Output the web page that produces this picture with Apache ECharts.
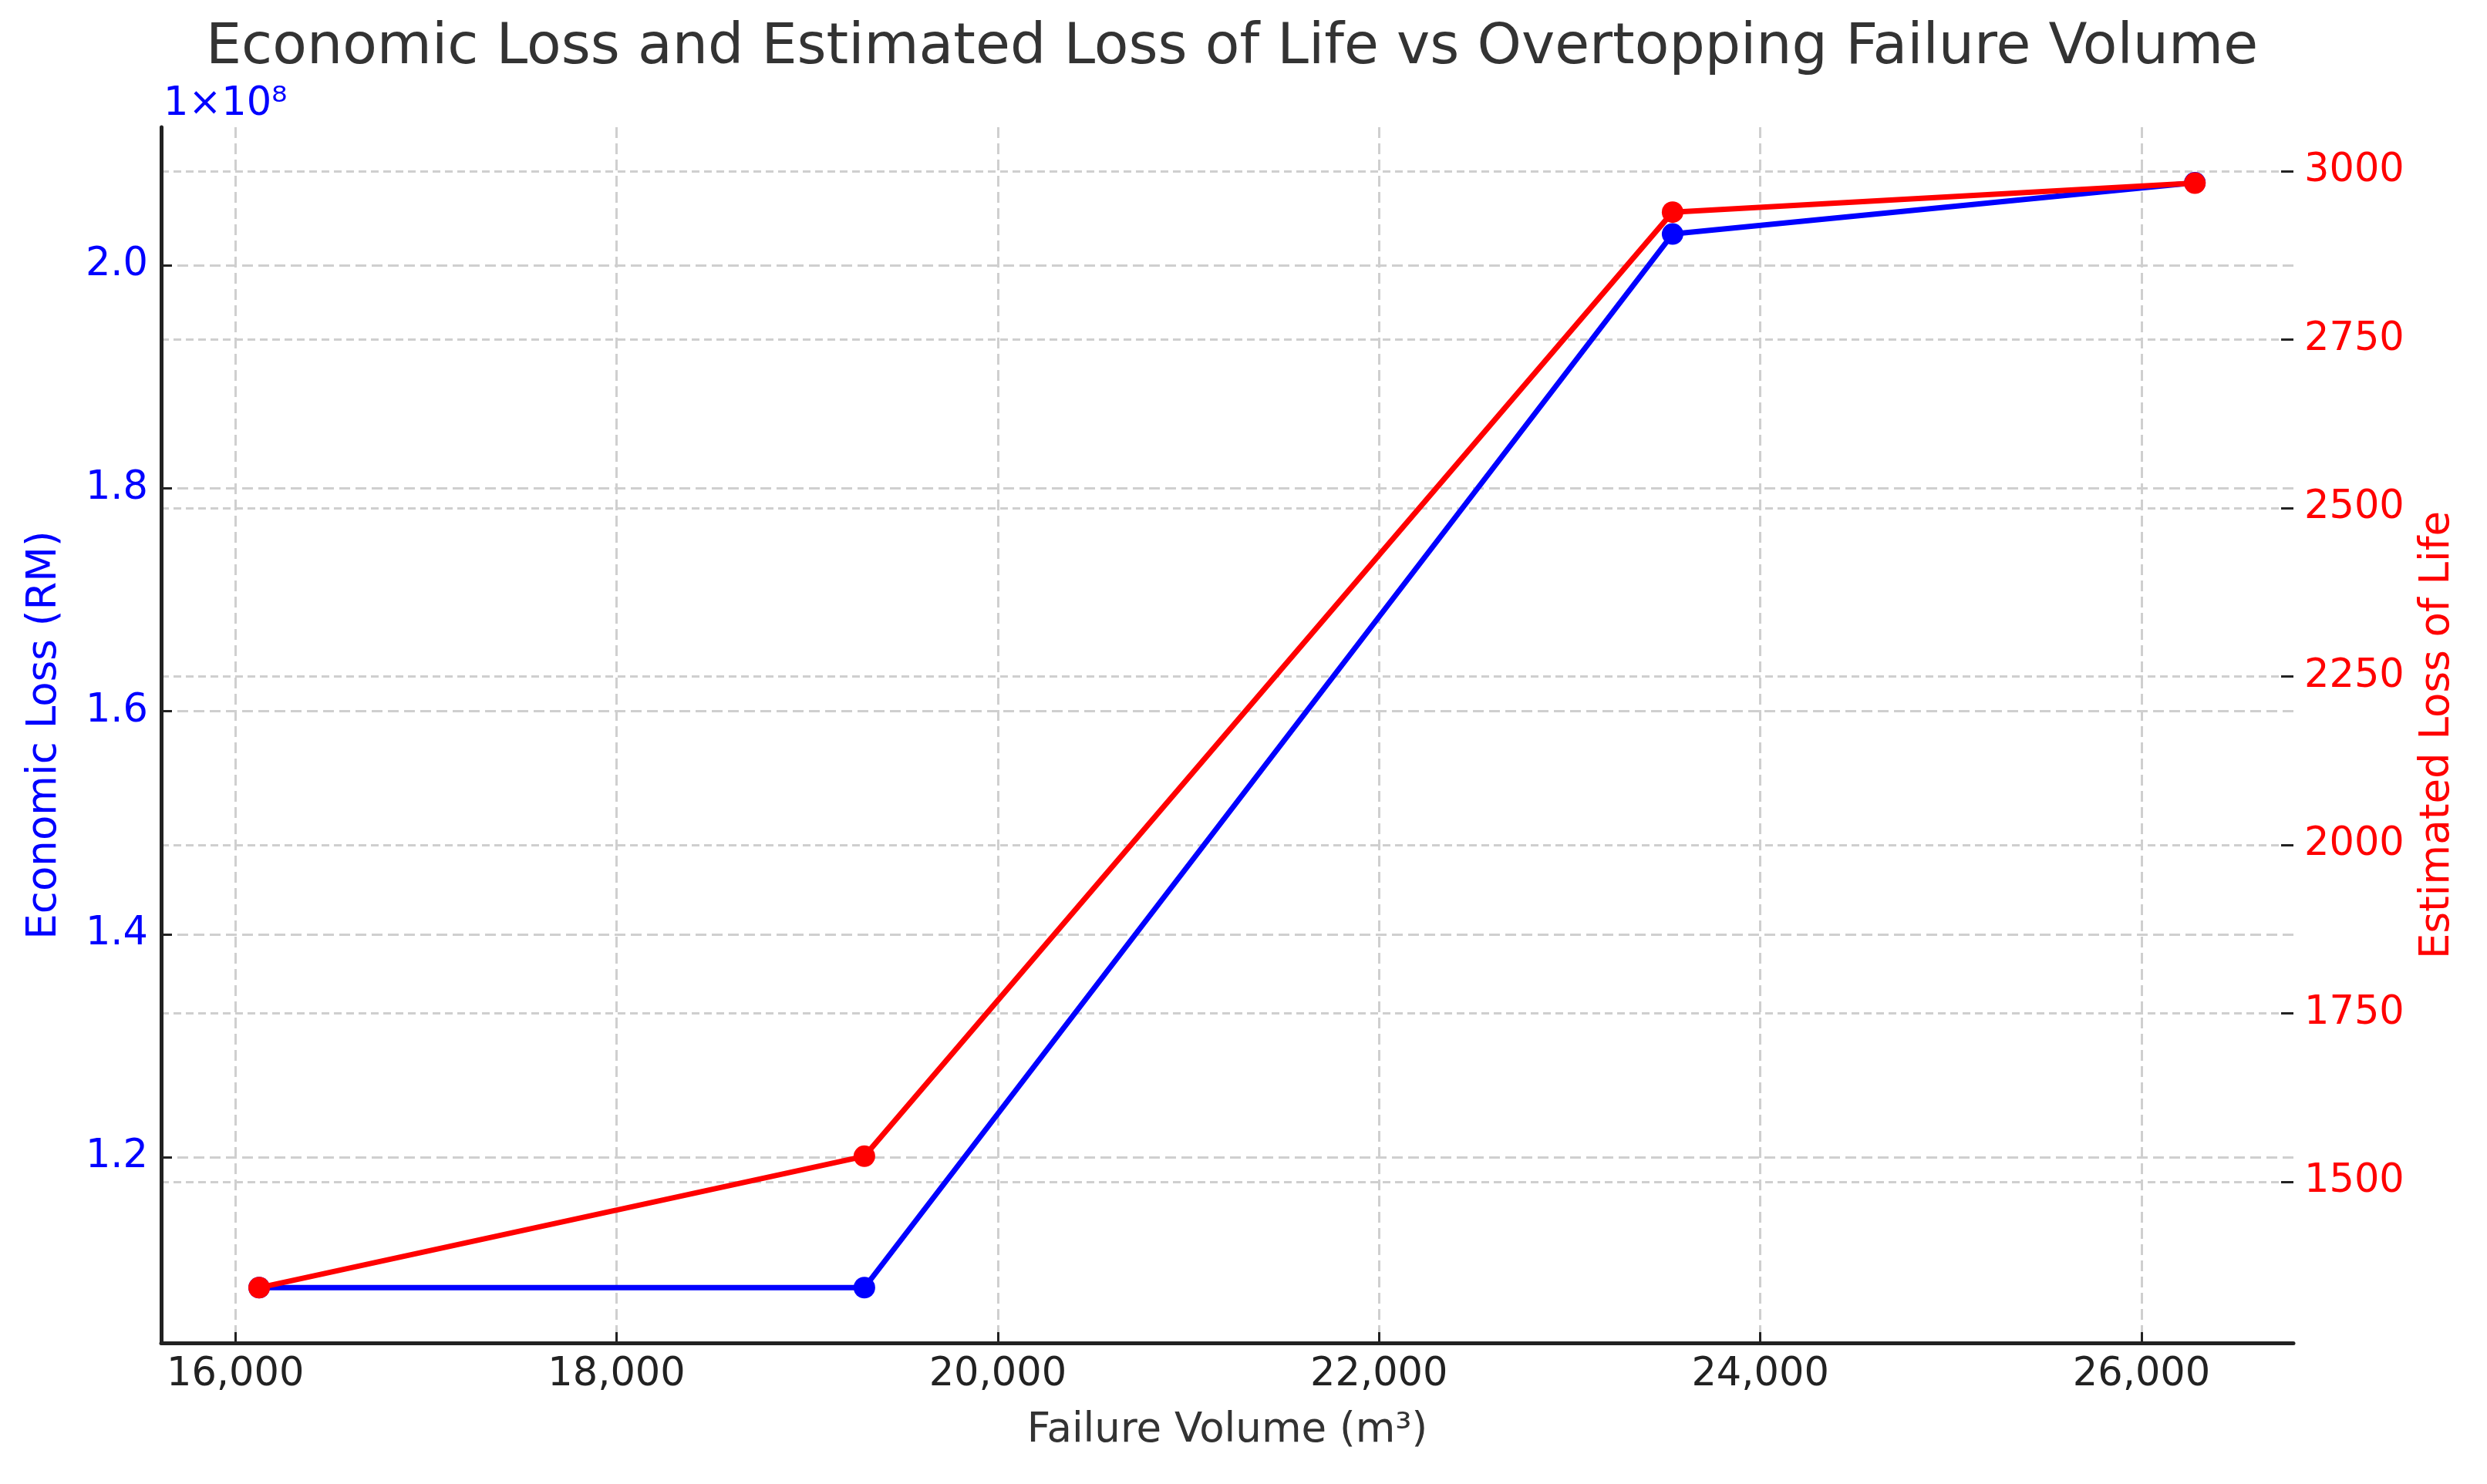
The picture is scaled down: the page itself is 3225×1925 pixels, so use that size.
<!DOCTYPE html>
<html>
<head>
<meta charset="utf-8">
<script src="https://cdn.jsdelivr.net/npm/echarts@6/dist/echarts.min.js"></script>
<style>
html,body{margin:0;padding:0;background:#fff;}
#chart{width:3225px;height:1925px;}
</style>
</head>
<body>
<div id="chart"></div>
<script>
// ---- data ----
const failureVolume = [16125, 19300, 23540, 26280];          // m³
const economicLoss = [1.083e8, 1.083e8, 2.028e8, 2.074e8];   // RM
const lossOfLife = [1343, 1538, 2939, 2982];

const xTicks = [16000, 18000, 20000, 22000, 24000, 26000];
const leftTicks = [1.2e8, 1.4e8, 1.6e8, 1.8e8, 2.0e8];
const rightTicks = [1500, 1750, 2000, 2250, 2500, 2750, 3000];

const titleText = 'Economic Loss and Estimated Loss of Life vs Overtopping Failure Volume';
const xName = 'Failure Volume (m³)';
const leftName = 'Economic Loss (RM)';
const rightName = 'Estimated Loss of Life';
const offsetText = '1×10⁸';

const FONT = 'DejaVu Sans';
const gridLine = (dash) => ({show: true, lineStyle: {color: '#cfcfcf', width: 3, type: dash}});

const chart = echarts.init(document.getElementById('chart'), null, {renderer: 'canvas'});
chart.setOption({
  backgroundColor: '#ffffff',
  animation: false,
  title: {
    text: titleText,
    left: 262,
    top: 22,
    textStyle: {fontFamily: FONT, fontSize: 73, fontWeight: 'normal', color: '#333333'}
  },
  graphic: [{
    type: 'text',
    left: 212,
    top: 110,
    style: {text: offsetText, fontFamily: FONT, fontSize: 51, fill: '#0000ff'}
  }],
  grid: {left: 209, right: 251, top: 165, bottom: 183, containLabel: false},
  xAxis: {
    type: 'value',
    min: 15611,
    max: 26797,
    name: xName,
    nameLocation: 'middle',
    nameGap: 88,
    nameTextStyle: {fontFamily: FONT, fontSize: 53, color: '#333333'},
    axisLine: {show: true, onZero: false, lineStyle: {color: '#222222', width: 5}},
    axisTick: {show: true, inside: true, length: 14, customValues: xTicks, lineStyle: {color: '#222222', width: 3}},
    axisLabel: {
      customValues: xTicks, margin: 16,
      fontFamily: FONT, fontSize: 51, color: '#222222',
      formatter: v => Number(v).toLocaleString('en-US')
    },
    splitLine: gridLine([14, 7])
  },
  yAxis: [{
    type: 'value',
    position: 'left',
    min: 1.0334e8,
    max: 2.1238e8,
    name: leftName,
    nameLocation: 'middle',
    nameGap: 124,
    nameTextStyle: {fontFamily: FONT, fontSize: 53, color: '#0000ff'},
    axisLine: {show: true, onZero: false, lineStyle: {color: '#222222', width: 5}},
    axisTick: {show: true, inside: true, length: 14, customValues: leftTicks, lineStyle: {color: '#222222', width: 3}},
    axisLabel: {
      customValues: leftTicks, margin: 17,
      fontFamily: FONT, fontSize: 51, color: '#0000ff',
      formatter: v => (v / 1e8).toFixed(1)
    },
    splitLine: gridLine([14, 7])
  }, {
    type: 'value',
    position: 'right',
    min: 1261,
    max: 3065,
    name: rightName,
    nameLocation: 'middle',
    nameGap: 161,
    nameRotate: 90,
    nameTextStyle: {fontFamily: FONT, fontSize: 53, color: '#ff0000'},
    axisLine: {show: false},
    axisTick: {show: true, inside: true, length: 16, customValues: rightTicks, lineStyle: {color: '#222222', width: 3}},
    axisLabel: {
      customValues: rightTicks, margin: 14,
      fontFamily: FONT, fontSize: 51, color: '#ff0000',
      formatter: v => String(Math.round(v))
    },
    splitLine: gridLine([10, 6])
  }],
  series: [{
    name: leftName,
    type: 'line',
    yAxisIndex: 0,
    data: failureVolume.map((x, i) => [x, economicLoss[i]]),
    symbol: 'circle',
    symbolSize: 28,
    lineStyle: {color: '#0000ff', width: 7},
    itemStyle: {color: '#0000ff'},
    z: 3
  }, {
    name: rightName,
    type: 'line',
    yAxisIndex: 1,
    data: failureVolume.map((x, i) => [x, lossOfLife[i]]),
    symbol: 'circle',
    symbolSize: 28,
    lineStyle: {color: '#ff0000', width: 7},
    itemStyle: {color: '#ff0000'},
    z: 4
  }]
});
</script>
</body>
</html>
